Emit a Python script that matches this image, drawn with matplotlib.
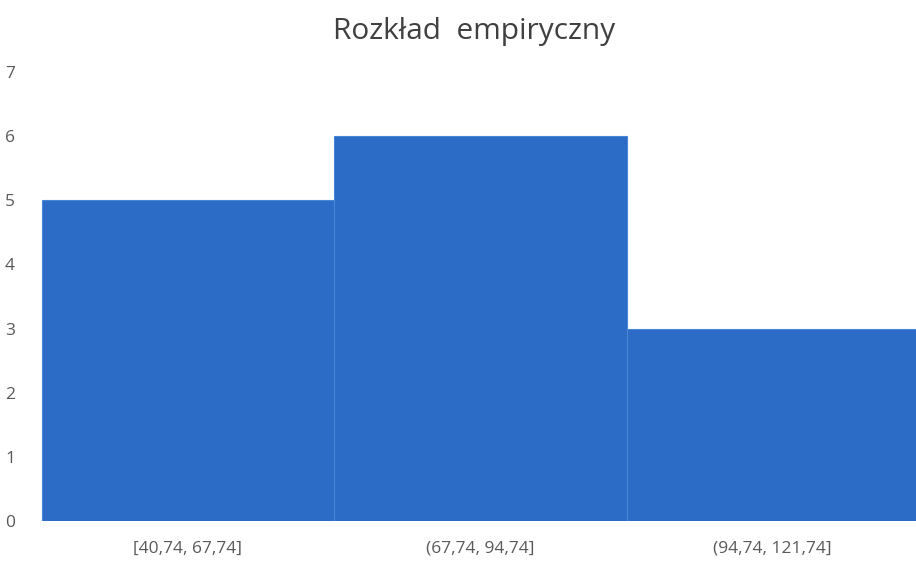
import matplotlib.pyplot as plt
import numpy as np

# histogram classes and counts
przedzialy = ['[40,74, 67,74]', '(67,74, 94,74]', '(94,74, 121,74]']
liczebnosci = [5, 6, 3]

plt.rcParams['font.family'] = ['Open Sans', 'DejaVu Sans']

fig = plt.figure(figsize=(9.16, 5.71), dpi=100)
ax = fig.add_axes([0.0437, 0.0876, 0.9563, 0.7864])

pos = np.arange(len(liczebnosci))
ax.bar(pos, liczebnosci, width=1.0, align='edge', color='#2c6bc6',
       edgecolor='#4a86d6', linewidth=0.8)

ax.set_xlim(-0.006, 2.99)
ax.set_ylim(0, 7)
ax.set_yticks(range(0, 8))
ax.set_xticks(pos + 0.5)
ax.set_xticklabels(przedzialy)

ax.tick_params(axis='both', length=0, colors='#595959', labelsize=12.5)
ax.tick_params(axis='x', pad=14)
ax.tick_params(axis='y', pad=18)
for s in ax.spines.values():
    s.set_visible(False)

fig.text(0.518, 0.945, 'Rozkład  empiryczny', ha='center', va='center',
         fontsize=21.5, color='#404040')

fig.savefig('out.png', dpi=100, facecolor='white')
